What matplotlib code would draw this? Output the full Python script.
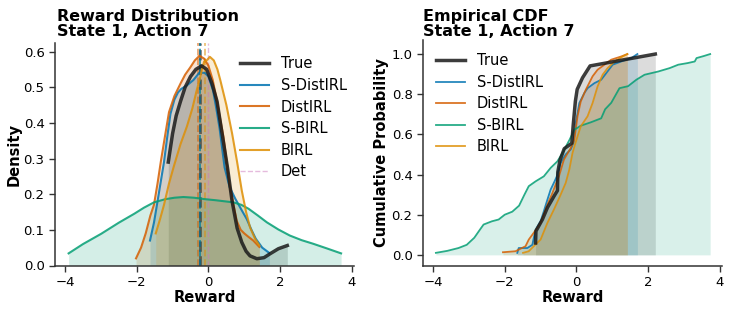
import matplotlib
matplotlib.use("Agg")
import matplotlib.pyplot as plt

# ---------------- data ----------------
series = ["True", "S-DistIRL", "DistIRL", "S-BIRL", "BIRL"]
colors = {"True": "#1a1a1a", "S-DistIRL": "#0173b2", "DistIRL": "#d55e00",
          "S-BIRL": "#029e73", "BIRL": "#de8f05", "Det": "#cc78bc"}

# KDE curves (reward, density)
kde_true_x = [-1.12, -1.0, -0.9, -0.78, -0.65, -0.5, -0.35, -0.19, -0.05, 0.1, 0.24, 0.38,
              0.53, 0.66, 0.8, 0.93, 1.05, 1.16, 1.35, 1.55, 1.72, 1.95, 2.2]
kde_true_y = [0.29, 0.37, 0.42, 0.46, 0.50, 0.53, 0.55, 0.56, 0.55, 0.51, 0.46, 0.37,
              0.275, 0.18, 0.105, 0.065, 0.04, 0.027, 0.019, 0.022, 0.033, 0.047, 0.056]

kde_sd_x = [-1.63, -1.52, -1.42, -1.33, -1.24, -1.15, -1.06, -0.95, -0.85, -0.76, -0.6, -0.42,
            -0.25, -0.1, 0.0, 0.13, 0.22, 0.31, 0.45, 0.59, 0.75, 0.9, 1.07, 1.2, 1.32, 1.5, 1.7]
kde_sd_y = [0.07, 0.12, 0.18, 0.235, 0.29, 0.36, 0.425, 0.465, 0.485, 0.495, 0.505, 0.52,
            0.541, 0.54, 0.53, 0.49, 0.44, 0.385, 0.275, 0.22, 0.187, 0.16, 0.13, 0.1, 0.075, 0.05, 0.035]

kde_d_x = [-2.02, -1.88, -1.75, -1.62, -1.52, -1.42, -1.33, -1.2, -1.1, -0.95, -0.78, -0.65, -0.51,
           -0.38, -0.25, -0.12, 0.0, 0.12, 0.24, 0.42, 0.6, 0.79, 0.9, 1.0, 1.12, 1.25, 1.42]
kde_d_y = [0.02, 0.05, 0.09, 0.14, 0.17, 0.23, 0.29, 0.37, 0.43, 0.475, 0.51, 0.535, 0.555,
           0.575, 0.588, 0.58, 0.56, 0.52, 0.46, 0.36, 0.22, 0.125, 0.1, 0.09, 0.08, 0.07, 0.052]

kde_sb_x = [-3.9, -3.5, -2.99, -2.5, -2.07, -1.8, -1.52, -1.2, -0.95, -0.7, -0.4, -0.1, 0.2, 0.45,
            0.7, 0.92, 1.12, 1.38, 1.63, 1.95, 2.27, 2.6, 2.92, 3.3, 3.7]
kde_sb_y = [0.034, 0.06, 0.089, 0.12, 0.145, 0.162, 0.177, 0.186, 0.19, 0.192, 0.19, 0.186, 0.183,
            0.18, 0.177, 0.17, 0.159, 0.14, 0.121, 0.101, 0.084, 0.071, 0.061, 0.048, 0.034]

kde_b_x = [-1.47, -1.35, -1.24, -1.1, -0.96, -0.78, -0.6, -0.45, -0.33, -0.25, -0.18, -0.12, -0.05,
           0.04, 0.15, 0.25, 0.33, 0.5, 0.66, 0.8, 0.93, 1.05, 1.16, 1.3, 1.42]
kde_b_y = [0.09, 0.13, 0.17, 0.23, 0.28, 0.34, 0.39, 0.44, 0.49, 0.52, 0.55, 0.572, 0.575,
           0.585, 0.575, 0.55, 0.52, 0.45, 0.37, 0.29, 0.21, 0.15, 0.107, 0.075, 0.056]

kde_x = {"True": kde_true_x, "S-DistIRL": kde_sd_x, "DistIRL": kde_d_x,
         "S-BIRL": kde_sb_x, "BIRL": kde_b_x}
kde_y = {"True": kde_true_y, "S-DistIRL": kde_sd_y, "DistIRL": kde_d_y,
         "S-BIRL": kde_sb_y, "BIRL": kde_b_y}

# sample means (dashed vertical lines) and deterministic estimate
mean_vals = {"True": -0.23, "S-DistIRL": -0.24, "DistIRL": -0.30, "S-BIRL": -0.23, "BIRL": -0.11}
det_val = 0.0

# Empirical CDF curves (reward, cumulative probability)
cdf_true_x = [-1.14, -1.13, -0.95, -0.81, -0.62, -0.53, -0.52, -0.46, -0.34, -0.13, -0.09,
              -0.06, -0.03, 0.02, 0.17, 0.38, 2.2]
cdf_true_y = [0.059, 0.118, 0.176, 0.235, 0.294, 0.32, 0.412, 0.471, 0.529, 0.556, 0.647,
              0.706, 0.765, 0.824, 0.882, 0.941, 1.0]

cdf_sd_x = [-1.65, -1.61, -1.37, -1.23, -1.19, -1.14, -1.0, -0.91, -0.81, -0.72, -0.61, -0.55,
            -0.44, -0.3, -0.16, -0.08, -0.02, 0.08, 0.22, 0.31, 0.5, 0.69, 0.87, 1.01, 1.25, 1.53, 1.7]
cdf_sd_y = [0.01, 0.034, 0.034, 0.05, 0.085, 0.126, 0.167, 0.217, 0.275, 0.325, 0.366, 0.39,
            0.458, 0.5, 0.525, 0.56, 0.657, 0.756, 0.806, 0.83, 0.855, 0.872, 0.914, 0.947, 0.963, 0.98, 1.0]

cdf_d_x = [-2.05, -1.7, -1.42, -1.33, -1.19, -1.0, -0.81, -0.67, -0.58, -0.49, -0.35, -0.16,
           -0.06, 0.03, 0.12, 0.26, 0.45, 0.59, 0.78, 0.97, 1.25, 1.42]
cdf_d_y = [0.013, 0.018, 0.043, 0.076, 0.11, 0.159, 0.25, 0.308, 0.35, 0.39, 0.474, 0.532,
           0.574, 0.69, 0.764, 0.822, 0.889, 0.922, 0.947, 0.972, 0.988, 1.0]

cdf_b_x = [-1.49, -1.33, -1.19, -1.0, -0.81, -0.63, -0.44, -0.3, -0.2, -0.11, -0.04, 0.03, 0.12,
           0.31, 0.45, 0.59, 0.73, 0.87, 1.06, 1.29, 1.42]
cdf_b_y = [0.01, 0.018, 0.043, 0.076, 0.159, 0.225, 0.3, 0.358, 0.424, 0.507, 0.55, 0.59, 0.64,
           0.69, 0.756, 0.839, 0.897, 0.93, 0.963, 0.988, 1.0]

cdf_sb_x = [-3.92, -3.6, -3.29, -3.06, -2.85, -2.69, -2.59, -2.36, -2.17, -2.0, -1.79, -1.6,
            -1.45, -1.33, -1.14, -0.91, -0.72, -0.53, -0.39, -0.19, -0.06, 0.12, 0.4, 0.69, 0.8,
            0.97, 1.2, 1.44, 1.67, 1.9, 2.28, 2.6, 2.84, 3.1, 3.3, 3.35, 3.55, 3.73]
cdf_sb_y = [0.01, 0.02, 0.034, 0.05, 0.085, 0.126, 0.151, 0.167, 0.176, 0.2, 0.215, 0.245,
            0.3, 0.342, 0.366, 0.391, 0.433, 0.466, 0.507, 0.574, 0.623, 0.643, 0.66, 0.68, 0.725,
            0.757, 0.83, 0.84, 0.872, 0.897, 0.913, 0.93, 0.947, 0.955, 0.963, 0.98, 0.99, 1.0]

cdf_x = {"True": cdf_true_x, "S-DistIRL": cdf_sd_x, "DistIRL": cdf_d_x,
         "S-BIRL": cdf_sb_x, "BIRL": cdf_b_x}
cdf_y = {"True": cdf_true_y, "S-DistIRL": cdf_sd_y, "DistIRL": cdf_d_y,
         "S-BIRL": cdf_sb_y, "BIRL": cdf_b_y}

x_ticks = [-4, -2, 0, 2, 4]

# ---------------- figure ----------------
plt.rcParams["font.family"] = ["DejaVu Sans"]
W, H = 731, 313
fig = plt.figure(figsize=(W / 100, H / 100), dpi=100)


def px_axes(l, t, r, b):
    return fig.add_axes([l / W, 1 - b / H, (r - l) / W, (b - t) / H])


ax1 = px_axes(55, 43.3, 354, 265.5)
ax2 = px_axes(423, 40, 722, 265.5)

for ax in (ax1, ax2):
    for s in ("top", "right"):
        ax.spines[s].set_visible(False)
    for s in ("left", "bottom"):
        ax.spines[s].set_linewidth(1.1)
        ax.spines[s].set_color("#333333")
    ax.tick_params(labelsize=9.5, length=4, width=1.0, color="#333333")
    ax.set_xticks(x_ticks)
    ax.set_xlim(-4.28, 4.06)

# --- left: densities ---
for name in series:
    lw = 2.5 if name == "True" else 1.5
    ax1.plot(kde_x[name], kde_y[name], color=colors[name], lw=lw, alpha=0.85, label=name,
             zorder=4 if name == "True" else 3)
    ax1.fill_between(kde_x[name], 0, kde_y[name], color=colors[name], alpha=0.17, lw=0)
mean_order = ["S-BIRL", "BIRL", "DistIRL", "True", "S-DistIRL"]
for name in mean_order:
    lw = 2.0 if name == "True" else 1.3
    ax1.axvline(mean_vals[name], color=colors[name], ls="--", lw=lw, alpha=0.55, zorder=2)
ax1.axvline(det_val, color=colors["Det"], ls="--", lw=1.0, alpha=0.5, label="Det")
ax1.set_ylim(0, 0.623)
ax1.set_yticks([0.0, 0.1, 0.2, 0.3, 0.4, 0.5, 0.6])
ax1.set_xlabel("Reward", fontsize=10.5, fontweight="bold", labelpad=1)
ax1.set_ylabel("Density", fontsize=10.5, fontweight="bold", labelpad=1.5)
ax1.legend(loc="upper right", frameon=False, fontsize=10.5, bbox_to_anchor=(1.02, 1.0),
           handlelength=2.0, labelspacing=0.45)

# --- right: ECDF ---
for name in series:
    lw = 2.5 if name == "True" else 1.3
    ax2.plot(cdf_x[name], cdf_y[name], color=colors[name], lw=lw, alpha=0.85, label=name,
             zorder=4 if name == "True" else 3)
    ax2.fill_between(cdf_x[name], 0, cdf_y[name], color=colors[name], alpha=0.15, lw=0)
ax2.set_ylim(-0.053, 1.07)
ax2.set_yticks([0.0, 0.2, 0.4, 0.6, 0.8, 1.0])
ax2.set_xlabel("Reward", fontsize=10.5, fontweight="bold", labelpad=1)
ax2.set_ylabel("Cumulative Probability", fontsize=10.5, fontweight="bold", labelpad=2)
ax2.legend(loc="upper left", frameon=False, fontsize=10.5, bbox_to_anchor=(0.0, 1.0),
           handlelength=2.0, labelspacing=0.45)

# titles
fig.text(57 / W, 1 - 36.5 / H, "Reward Distribution\nState 1, Action 7", fontsize=11.5,
         fontweight="bold", ha="left", va="baseline", linespacing=1.05)
fig.text(423 / W, 1 - 36.5 / H, "Empirical CDF\nState 1, Action 7", fontsize=11.5,
         fontweight="bold", ha="left", va="baseline", linespacing=1.05)

fig.savefig("out.png", dpi=100)
